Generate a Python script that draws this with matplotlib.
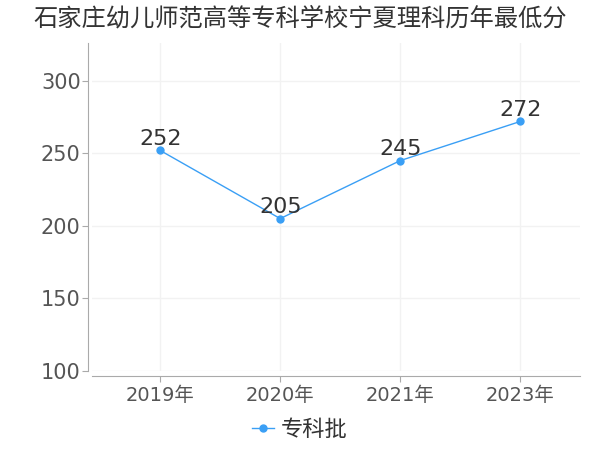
import numpy as np
import matplotlib
matplotlib.use("Agg")
import matplotlib.pyplot as plt

plt.rcParams['font.family'] = ['DejaVu Sans', 'Noto Sans CJK SC']

years = ["2019年", "2020年", "2021年", "2023年"]
scores = [252, 205, 245, 272]
series_name = "专科批"
title = "石家庄幼儿师范高等专科学校宁夏理科历年最低分"

fig = plt.figure(figsize=(6, 4.5), dpi=100)
ax = fig.add_axes([0.153, 0.176, 0.814, 0.728])

x = np.arange(len(years))
ax.plot(x, scores, "-o", color="#3a9ff5", lw=1.0, ms=5, label=series_name)
for xi, v in zip(x, scores):
    ax.annotate(str(v), xy=(xi, v), xytext=(0, 1), textcoords="offset points",
                ha="center", va="bottom", fontsize=16, color="#333333")

ax.set_xlim(-0.57, 3.5)
ax.set_ylim(100, 326)
ax.set_yticks([100, 150, 200, 250, 300])
ax.set_xticks(x)
ax.set_xticklabels(years)
ax.tick_params(axis="y", labelsize=15, labelcolor="#555555", color="#aaaaaa", length=4, pad=1)
ax.tick_params(axis="x", labelsize=14, labelcolor="#555555", color="#aaaaaa", length=4, pad=3)

for s in ["top", "right"]:
    ax.spines[s].set_visible(False)
ax.spines["left"].set_color("#aaaaaa")
ax.spines["bottom"].set_color("#aaaaaa")
ax.spines["left"].set_position(("outward", 3))
ax.spines["bottom"].set_position(("outward", 4))
ax.grid(True, color="#f2f2f2", lw=1)
ax.set_axisbelow(True)

fig.suptitle(title, x=0.5, y=0.985, fontsize=17.5, color="#333333")
fig.legend(loc="center", bbox_to_anchor=(0.5, 0.045), frameon=False, fontsize=16,
           handlelength=1.0, handletextpad=0.3, labelcolor="#333333")

fig.savefig("out.png", dpi=100)
